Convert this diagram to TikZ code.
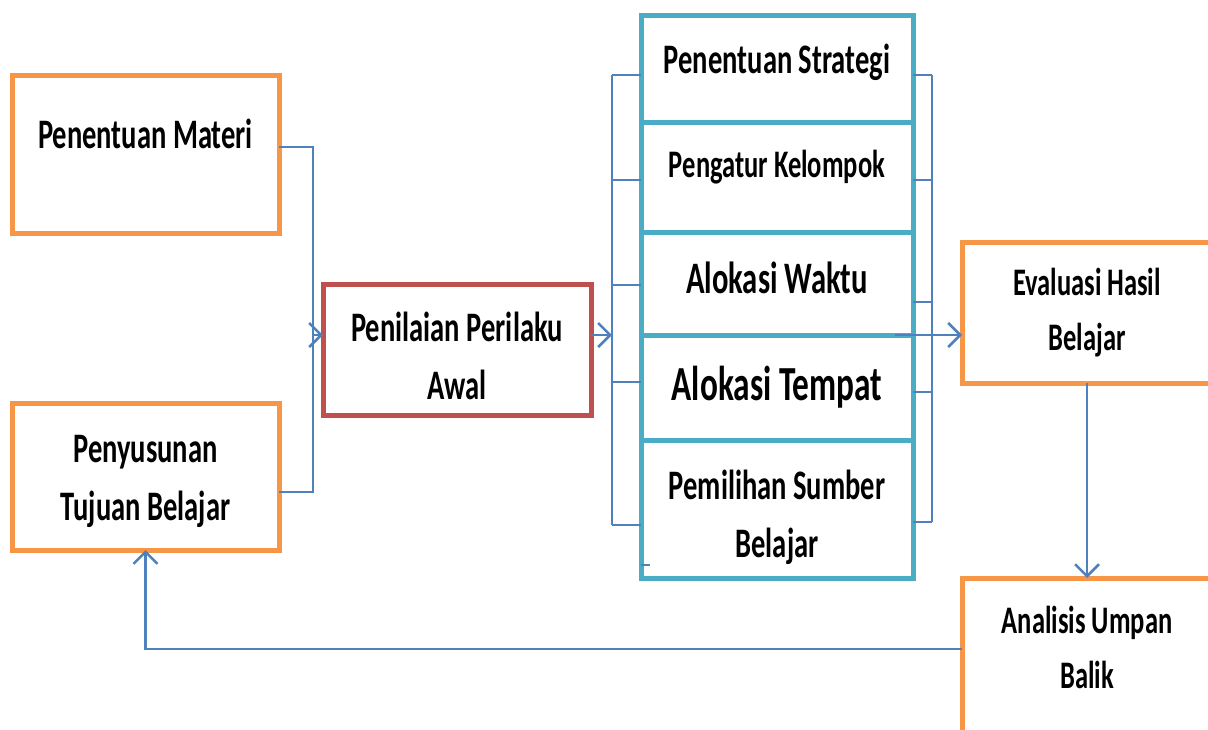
\documentclass[tikz,border=0pt]{standalone}
\usepackage{fontspec}
\setmainfont{Carlito}[FakeStretch=0.68]
\usetikzlibrary{arrows.meta,positioning}
\definecolor{tangerine}{RGB}{247,150,70}
\definecolor{rust}{RGB}{192,80,77}
\definecolor{aqua}{RGB}{75,172,198}
\definecolor{steel}{RGB}{79,129,189}
\tikzset{
  >={Straight Barb[length=12pt,width=24pt]},
  box/.style={draw=#1,line width=5pt,inner sep=0pt,outer sep=0pt,
    align=center,font=\bfseries\fontsize{42}{58}\selectfont},
  box/.default=tangerine,
  small/.style={font=\bfseries\fontsize{39}{55}\selectfont},
  link/.style={draw=steel,line width=2pt},
  flow/.style={->,draw=steel,line width=2.5pt},
}
\begin{document}
\begin{tikzpicture}[x=1pt,y=-1pt]
  \clip (0,0) rectangle (1208,729);
  % left column
  \node[box,minimum width=267pt,minimum height=158pt] (materi) at (145.5,154) {Penentuan Materi\\[-17pt]\mbox{}};
  \node[box,minimum width=267pt,minimum height=147pt] (tujuan) at (145.5,476.5) {\rule{0pt}{38pt}Penyusunan\\Tujuan Belajar};
  \node[box=rust,minimum width=268pt,minimum height=131pt] (penilaian) at (457,349.5) {\rule{0pt}{43pt}Penilaian Perilaku\\Awal};
  % middle column
  \node[box=aqua,minimum width=272pt,minimum height=107pt] (strategi) at (777,68.5) {Penentuan Strategi\rule[-20pt]{0pt}{20pt}};
  \node[box=aqua,minimum width=272pt,minimum height=110pt,small] (kelompok) at (777,177) {Pengatur Kelompok\rule[-26pt]{0pt}{26pt}};
  \node[box=aqua,minimum width=272pt,minimum height=103pt,font=\bfseries\fontsize{45}{58}\selectfont] (waktu) at (777,283.5) {Alokasi Waktu\rule[-12pt]{0pt}{12pt}};
  \node[box=aqua,minimum width=272pt,minimum height=105pt,font=\bfseries\fontsize{49}{60}\selectfont] (tempat) at (777,387.5) {Alokasi Tempat};
  \node[box=aqua,minimum width=272pt,minimum height=138pt] (pemilihan) at (777,509) {\rule{0pt}{46pt}Pemilihan Sumber\\Belajar};
  % right column
  \node[box,minimum width=250pt,minimum height=141pt,small] (evaluasi) at (1087,312.5) {Evaluasi Hasil\\Belajar};
  \node[box,minimum width=250pt,minimum height=180pt,small] (analisis) at (1087,668) {Analisis Umpan\\Balik\\[-13pt]\mbox{}};
  % brackets and arrows
  \coordinate (lbar) at (313,335);
  \draw[link] ([yshift=7pt]materi.east) -| (lbar) |- ([yshift=-15pt]tujuan.east);
  \draw[flow] (lbar) -- (lbar -| penilaian.west);
  \coordinate (mbar) at (612,335);
  \draw[flow] (mbar -| penilaian.east) -- (mbar);
  \draw[link] (mbar |- 0,75) -- (mbar |- 0,525);
  \foreach \n/\y in {strategi/75,kelompok/180,waktu/285,tempat/382,pemilihan/525}
    \draw[link] (\n.west |- 0,\y) -- (mbar |- 0,\y);
  \draw[link] ([yshift=13pt]pemilihan.south west) -- ++(9,0);
  \coordinate (rbar) at (932,335);
  \draw[link] (rbar |- 0,75) -- (rbar |- 0,522);
  \foreach \n/\y in {strategi/75,kelompok/180,waktu/302,tempat/392,pemilihan/522}
    \draw[link] (\n.east |- 0,\y) -- (rbar |- 0,\y);
  \draw[flow] ([xshift=-18pt]tempat.north east) -- (tempat.north east -| evaluasi.west);
  \draw[flow] (evaluasi.south) -- (analisis.north);
  \draw[flow] ([yshift=19pt]analisis.west) -| (tujuan.south);
\end{tikzpicture}
\end{document}
